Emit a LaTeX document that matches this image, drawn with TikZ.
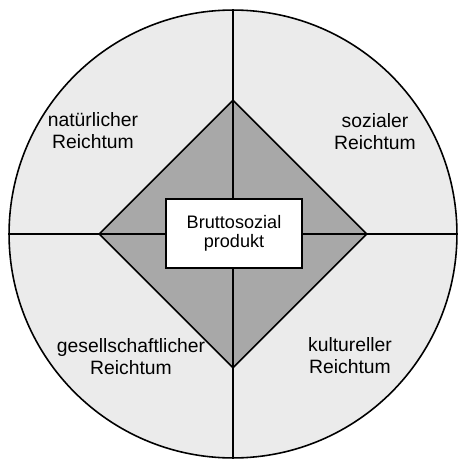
\documentclass[tikz,border=0pt]{standalone}
\usepackage{fontspec}
\setmainfont{Liberation Sans}
\usetikzlibrary{shapes.geometric}
\definecolor{lightfield}{HTML}{EBEBEB}
\definecolor{darkfield}{HTML}{A8A8A8}

\begin{document}
\begin{tikzpicture}[x=0.02cm, y=-0.02cm, line width=0.9pt,
  wealth/.style={align=center, font=\fontsize{11}{12.5}\selectfont}]
  \useasboundingbox (0,0) rectangle (457,459);
  \node[circle, draw, fill=lightfield, minimum size=8.96cm, inner sep=0] (wheel) at (233,234) {};
  \node[diamond, draw, fill=darkfield, minimum size=5.36cm, aspect=1, inner sep=0] (core) at (233,234) {};
  \draw (wheel.north) to (wheel.south);
  \draw (wheel.west) to (wheel.east);
  \node[draw, fill=white, minimum width=2.72cm, minimum height=1.38cm, align=center,
    font=\fontsize{10.3}{11}\selectfont] (bsp) at (234,233.5) {Bruttosozial\\produkt};
  \node[wealth] (natur) at (93,131) {natürlicher\\Reichtum};
  \node[wealth] (sozial) at (375,132) {sozialer\\Reichtum};
  \node[wealth] (gesell) at (131,357) {gesellschaftlicher\\Reichtum};
  \node[wealth] (kultur) at (350,356) {kultureller\\Reichtum};
\end{tikzpicture}
\end{document}
